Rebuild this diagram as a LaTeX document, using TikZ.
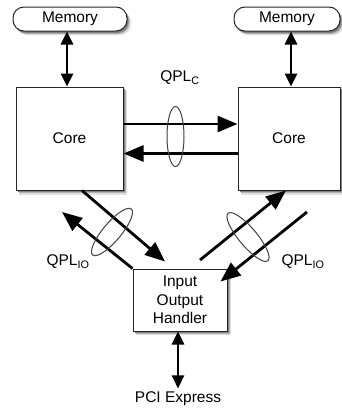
\documentclass[tikz,border=0pt]{standalone}
\usepackage{fontspec}
\setmainfont{Liberation Sans}
\usetikzlibrary{arrows.meta,shapes.geometric,shadows}
\begin{document}
\begin{tikzpicture}[x=1pt,y=-1pt,
  font=\fontsize{15.5}{18.5}\selectfont,
  box/.style={draw=black!85, line width=1pt, fill=white, inner sep=0pt,
    general shadow={fill=black!12, shadow xshift=3.5pt, shadow yshift=-4pt, shadow scale=1.01},
    general shadow={fill=black!30, shadow xshift=2.5pt, shadow yshift=-3pt},
    general shadow={fill=black!50, shadow xshift=1.5pt, shadow yshift=-2pt}},
  membox/.style={box, rounded corners=11pt, minimum height=24pt},
  memarrow/.style={line width=2.6pt, {Triangle[length=13pt,width=12pt]}-{Triangle[length=13pt,width=12pt]}},
  link/.style={line width=2.8pt, -{Triangle[length=20pt,width=16pt]}},
  bundle/.style={draw=black!75, line width=1pt, ellipse, inner sep=0pt}]
\useasboundingbox (0,0) rectangle (342,410);
% nodes
\node[membox, minimum width=114pt] (mem1) at (70,19) {Memory};
\node[membox, minimum width=106pt] (mem2) at (287,19) {Memory};
\node[box, minimum width=107pt, minimum height=103pt] (core1) at (69.5,138.5) {Core};
\node[box, minimum width=102pt, minimum height=103pt] (core2) at (289,138.5) {Core};
\node[box, minimum width=94pt, minimum height=62pt, align=center] (io) at (180,300) {Input\\Output\\Handler};
\node (pci) at (178,399) {PCI Express};
% memory links
\draw[memarrow] ([xshift=-3pt]mem1.south) -- ([xshift=-3pt]mem1.south |- core1.north);
\draw[memarrow] ([xshift=2pt]core2.north) -- ([xshift=2pt]core2.north |- mem2.south);
\draw[memarrow] ([xshift=-2pt]io.south) -- ([xshift=-2pt]io.south |- pci.north);
% core-core links
\draw[link] ([yshift=14.5pt]core1.east) -- ([yshift=14.5pt]core2.west);
\draw[link] ([yshift=-15pt]core2.west) -- ([yshift=-15pt]core1.east);
% free ends
\coordinate (l2end) at (62,212);
\coordinate (r1start) at (200,260);
\coordinate (r2start) at (307,212);
% left IO links
\draw[link] ([xshift=12.5pt]core1.south) -- ([xshift=-15pt,yshift=7pt]io.north);
\draw[link] (io.north west) -- (l2end);
% right IO links
\draw[link] (r1start) -- ([xshift=-3pt]core2.south);
\draw[link] (r2start) -- ([xshift=-7pt,yshift=-13pt]io.north east);
% bundles
\node[bundle, minimum width=17pt, minimum height=60pt] (ec) at (175.5,136.5) {};
\node[bundle, minimum width=60pt, minimum height=18pt, rotate=50] (el) at (112,232) {};
\node[bundle, minimum width=62pt, minimum height=18pt, rotate=-50] (er) at (248,237) {};
% labels
\node (qc) at (180,78) {QPL\textsubscript{C}};
\node (ql) at (68,262) {QPL\textsubscript{IO}};
\node (qr) at (303,262) {QPL\textsubscript{IO}};
\end{tikzpicture}
\end{document}
